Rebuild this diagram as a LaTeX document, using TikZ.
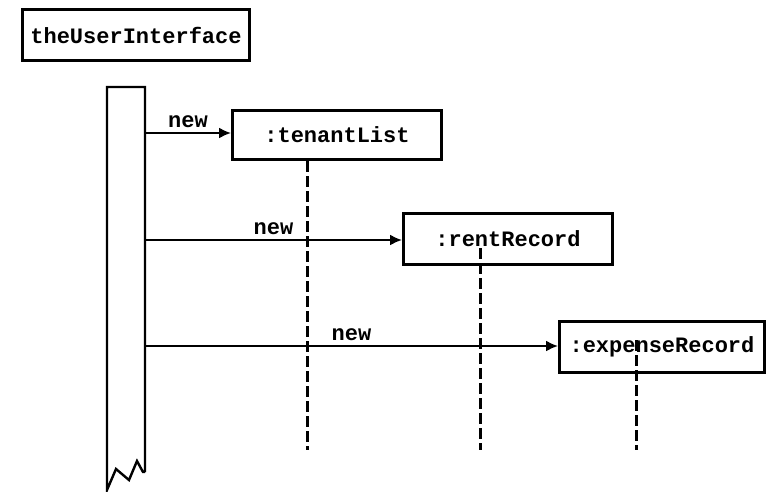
\documentclass[tikz,border=0pt]{standalone}
\usepackage{fontspec}
\setmonofont{Liberation Mono}
\usetikzlibrary{arrows.meta}
\tikzset{
  obj/.style={draw, line width=3pt, font=\ttfamily\bfseries\fontsize{22}{24}\selectfont, inner sep=0pt, anchor=north west},
  msg/.style={line width=2pt, -{Latex[length=12pt,width=11pt]}},
  msglabel/.style={font=\ttfamily\bfseries\fontsize{22}{24}\selectfont, inner sep=0pt},
  lifeline/.style={line width=3pt, dash pattern=on 11pt off 4pt},
  bar/.style={line width=2.4pt, line join=miter}
}
\begin{document}
\begin{tikzpicture}[x=1pt,y=-1pt]
\useasboundingbox[fill=white] (0,0) rectangle (767,491);
% caller object
\node[obj, minimum width=227pt, minimum height=51pt] (ui) at (21,8) {theUserInterface};
% activation bar with torn lower end
\draw[bar] (145,472) -- (145,87) -- (107,87) -- (107,490) -- (116,469) -- (129,480) -- (137,461) -- (143,472) -- (145,472);
% created objects
\node[obj, minimum width=209pt, minimum height=49pt] (tl) at (231,109) {:tenantList};
\node[obj, minimum width=209pt, minimum height=51pt] (rr) at (402,212) {:rentRecord};
\node[obj, minimum width=205pt, minimum height=51pt] (er) at (558,320) {:expenseRecord};
% creation messages
\coordinate (s1) at (145,133);
\coordinate (s2) at (145,240);
\coordinate (s3) at (145,346);
\draw[msg] (s1) -- (s1 -| tl.west) node[msglabel, pos=0.5, above=4pt] {new};
\draw[msg] (s2) -- (s2 -| rr.west) node[msglabel, pos=0.5, above=4pt] {new};
\draw[msg] (s3) -- (s3 -| er.west) node[msglabel, pos=0.5, above=4pt] {new};
% lifelines
\coordinate (e1) at (307,450);
\coordinate (e2) at (480,450);
\coordinate (e3) at (636,450);
\draw[lifeline] (e1 |- tl.south) -- (e1);
\draw[lifeline] (480,248) -- (e2);
\draw[lifeline] (636,340) -- (e3);
\end{tikzpicture}
\end{document}
